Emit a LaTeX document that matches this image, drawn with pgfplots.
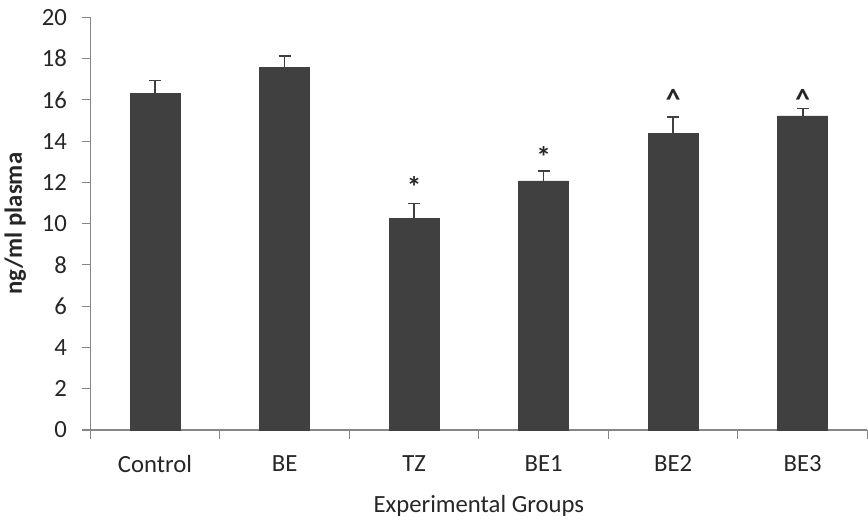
\documentclass[border=0pt]{standalone}
\usepackage{pgfplots}
\pgfplotsset{compat=1.18}
\usepackage{fontspec}
\setmainfont{Carlito}
\definecolor{barc}{HTML}{404040}
\definecolor{axc}{HTML}{868686}
\begin{document}
\begin{tikzpicture}
\begin{axis}[
 scale only axis, width=582pt, height=309pt,
 xmin=-0.5, xmax=5.5, ymin=0, ymax=20,
 ytick={0,2,...,20},
 xtick={0,...,5}, xticklabels={Control,BE,TZ,BE1,BE2,BE3},
 minor xtick={-0.5,0.5,...,5.5},
 major x tick style={draw=none},
 axis x line*=bottom, axis y line*=left,
 axis line style={axc, line width=0.8pt, -},
 tick align=outside,
 tick style={axc, line width=0.8pt},
 major tick length=6.5pt, minor tick length=6.75pt,
 /pgf/number format/assume math mode=true,
 tick label style={font=\fontsize{18.5}{20}\selectfont, text=black!85},
 xticklabel style={yshift=-9pt},
 yticklabel style={xshift=-7.5pt},
 ylabel={\bfseries ng/ml plasma}, xlabel={Experimental Groups},
 label style={font=\fontsize{18.5}{20}\selectfont, text=black!85},
 xlabel style={yshift=-10pt},
 ylabel style={yshift=5pt},
 clip=false,
]
\addplot[ybar, bar width=37.5pt, fill=barc, draw=barc,
  error bars/.cd, y dir=plus, y explicit,
  error bar style={line width=1.2pt, color=barc},
  error mark options={rotate=90, mark size=4.5pt, line width=1.2pt, color=barc}]
 coordinates {(0,16.3) +- (0,0.63) (1,17.59) +- (0,0.53) (2,10.26) +- (0,0.71)
              (3,12.07) +- (0,0.47) (4,14.37) +- (0,0.79) (5,15.23) +- (0,0.35)};
\addplot[draw=none, mark=none, nodes near coords, point meta=explicit symbolic,
  nodes near coords style={font=\bfseries\fontsize{22}{22}\selectfont, anchor=center, text=black!85}]
 coordinates {(2,11.8)[*] (3,13.25)[*] (4,16.0)[\textasciicircum] (5,16.0)[\textasciicircum]};
\path (rel axis cs:0,1) -- ++(0,13pt);
\end{axis}
\end{tikzpicture}
\end{document}
